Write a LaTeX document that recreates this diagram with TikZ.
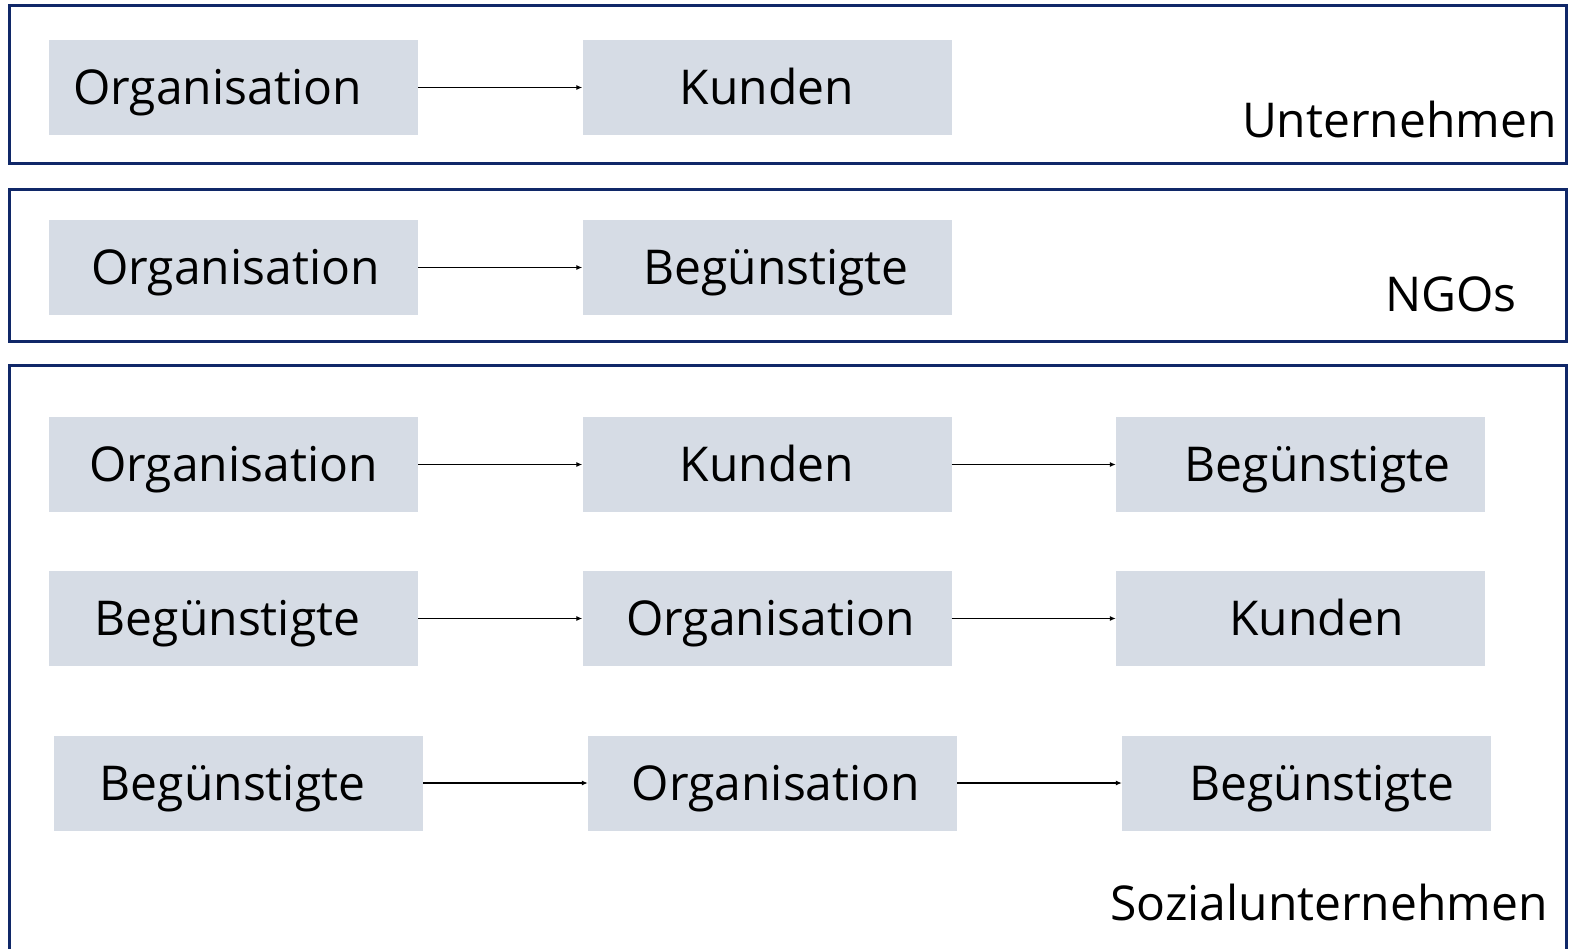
\documentclass[tikz,border=0pt]{standalone}
\usepackage{fontspec}
\setmainfont{Open Sans}
\usetikzlibrary{arrows.meta}
\definecolor{framecol}{RGB}{16,40,104}
\definecolor{boxcol}{RGB}{214,220,229}

\begin{document}
\begin{tikzpicture}[x=1pt,y=-1pt,
  box/.style={fill=boxcol,minimum width=369pt,minimum height=95pt,inner sep=0pt,
    text height=34pt,text depth=0pt,font=\fontsize{48}{58}\selectfont},
  frame/.style={draw=framecol,line width=2.6pt},
  tag/.style={anchor=base east,inner sep=0pt,font=\fontsize{48}{58}\selectfont},
  >={Latex[length=6pt,width=5pt]}]
\useasboundingbox (0,0) rectangle (1569,949);
\clip (0,0) rectangle (1569,949);
\draw [frame] (9.5,5.5) rectangle (1566.5,163.5);
\draw [frame] (9.5,189.5) rectangle (1566.5,341.5);
\draw [frame] (9.5,365.5) rectangle (1566.5,980);
\node (v0) [box] at (233.5,87.5) {\kern-32pt Organisation};
\node (v1) [box] at (767,87.5) {Kunden};
\node (v2) [box] at (233.5,267.5) {\kern4pt Organisation};
\node (v3) [box] at (767,267.5) {\kern18pt Begünstigte};
\node (v4) [box] at (233.5,464.5) {Organisation};
\node (v5) [box] at (767,464.5) {Kunden};
\node (v6) [box] at (1300.5,464.5) {\kern34pt Begünstigte};
\node (v7) [box] at (233.5,618.5) {\kern-12pt Begünstigte};
\node (v8) [box] at (767,618.5) {\kern7pt Organisation};
\node (v9) [box] at (1300.5,618.5) {\kern32pt Kunden};
\node (v10) [box] at (238.5,783) {\kern-12pt Begünstigte};
\node (v11) [box] at (772.5,783) {\kern7pt Organisation};
\node (v12) [box] at (1306.5,783) {\kern31pt Begünstigte};
\node (t0) [tag] at (1557,138) {Unternehmen};
\node (t1) [tag] at (1517,312) {NGOs};
\node (t2) [tag] at (1548,920) {Sozialunternehmen};
\draw [->,line width=1.1pt] (v0) edge (v1);
\draw [->,line width=1.1pt] (v2) edge (v3);
\draw [->,line width=1.1pt] (v4) edge (v5);
\draw [->,line width=1.1pt] (v5) edge (v6);
\draw [->,line width=1.1pt] (v7) edge (v8);
\draw [->,line width=1.1pt] (v8) edge (v9);
\draw [->,line width=1.1pt] (v10) edge (v11);
\draw [->,line width=1.1pt] (v11) edge (v12);
\end{tikzpicture}
\end{document}
